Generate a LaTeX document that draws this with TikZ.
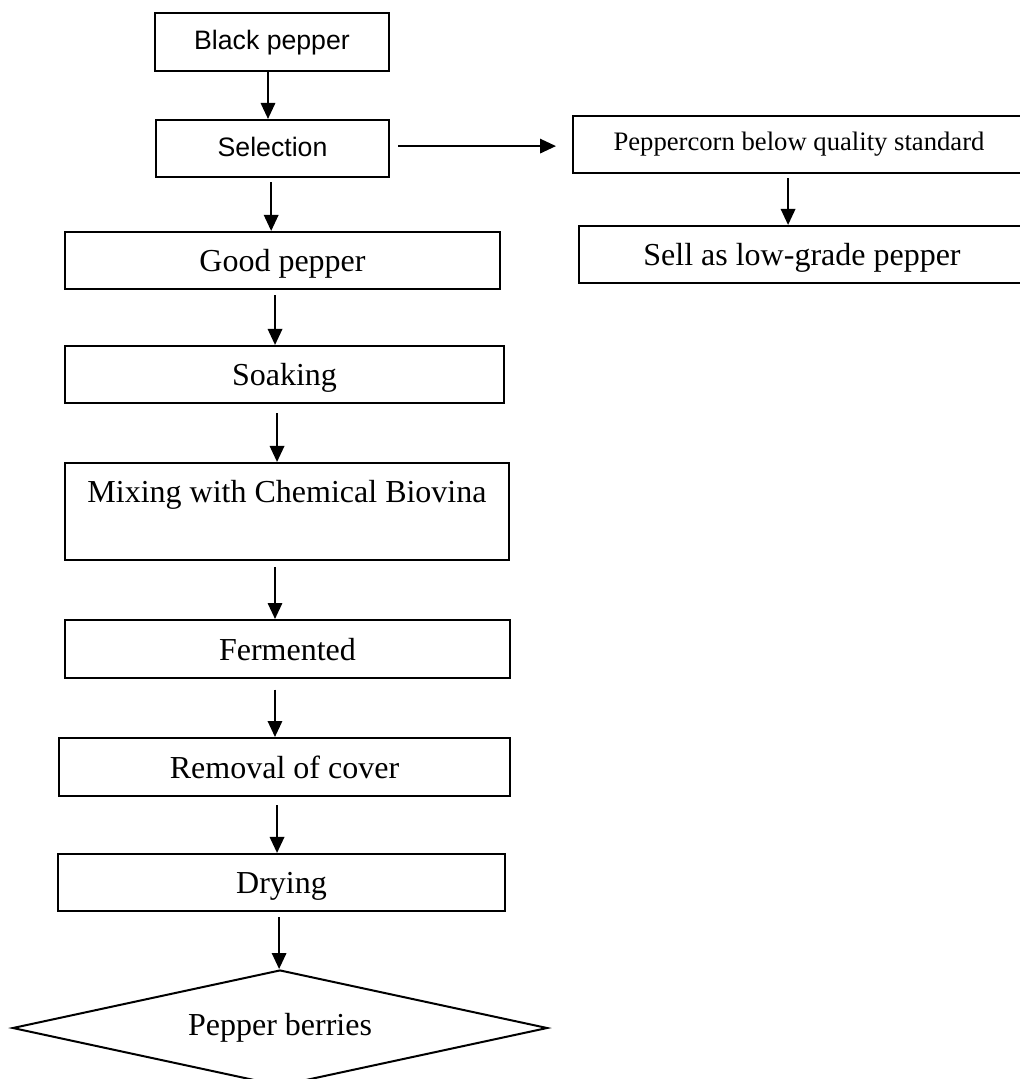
\documentclass[tikz,border=0pt]{standalone}
\usepackage{fontspec}
\setmainfont{Liberation Serif}
\setsansfont{Liberation Sans}
\usetikzlibrary{arrows.meta,shapes.geometric}

\tikzset{
  stage/.style={draw, line width=0.75pt, inner sep=0pt, align=center,
    minimum height=21.4pt, text height=8.3pt, text depth=0pt,
    font=\fontsize{12}{14.4}\selectfont},
  stagesf/.style={stage, text height=7.2pt, font=\sffamily\fontsize{10}{12}\selectfont},
  flow/.style={line width=0.75pt, -{Triangle[length=6pt,width=5.4pt]}},
}

\begin{document}
\begin{tikzpicture}[x=0.375pt,y=-0.375pt]
  \useasboundingbox (0,0) rectangle (1019,1079);
  % main line
  \node[stagesf, minimum width=87.75pt, minimum height=21.75pt, text depth=1.2pt] (black) at (272,42) {Black pepper};
  \node[stagesf, minimum width=87.4pt, text depth=1pt] (sel) at (272.5,148.5) {Selection};
  \node[stage, minimum width=163.1pt] (good) at (282.5,260.5) {Good pepper};
  \node[stage, minimum width=164.6pt] (soak) at (284.5,374.5) {Soaking};
  \node[stage, minimum width=166.5pt, minimum height=36.4pt, text depth=14.7pt] (mix) at (287,511.5) {Mixing with Chemical Biovina};
  \node[stage, minimum width=166.9pt, minimum height=21.75pt] (ferm) at (287.5,649) {Fermented};
  \node[stage, minimum width=169.1pt, minimum height=21.75pt] (cover) at (284.5,767) {Removal of cover};
  \node[stage, minimum width=167.6pt] (dry) at (281.5,882.5) {Drying};
  \node[stage, diamond, aspect=4.6, minimum width=200.6pt, minimum height=43.5pt, text depth=3pt] (berries) at (280,1028) {Pepper berries};
  % rejected branch
  \node[stage, minimum width=169.5pt, text height=6.6pt, text depth=1.8pt, font=\fontsize{10}{12}\selectfont] (reject) at (799,144.5) {Peppercorn below quality standard};
  \node[stage, minimum width=167.25pt] (sell) at (802,254.5) {Sell as low-grade pepper};
  % connectors
  \draw[flow] ([xshift=-1.5pt]black.south) -- ([xshift=-1.5pt]black.south |- sel.north);
  \draw[flow, shorten <=1.5pt] ([xshift=-0.5pt]sel.south) -- ([xshift=-0.5pt]sel.south |- good.north);
  \draw[flow, shorten <=2pt] ([xshift=-2.8pt]good.south) -- ([xshift=-2.8pt]good.south |- soak.north);
  \draw[flow, shorten <=3.5pt] ([xshift=-2.8pt]soak.south) -- ([xshift=-2.8pt]soak.south |- mix.north);
  \draw[flow, shorten <=2.2pt] ([xshift=-4.5pt]mix.south) -- ([xshift=-4.5pt]mix.south |- ferm.north);
  \draw[flow, shorten <=4pt] ([xshift=-4.7pt]ferm.south) -- ([xshift=-4.7pt]ferm.south |- cover.north);
  \draw[flow, shorten <=3pt] ([xshift=-2.8pt]cover.south) -- ([xshift=-2.8pt]cover.south |- dry.north);
  \draw[flow, shorten <=2pt] ([xshift=-0.9pt]dry.south) -- ([xshift=-0.9pt]dry.south |- berries.north);
  \draw[flow, shorten <=3pt, shorten >=6pt] ([yshift=0.9pt]sel.east) -- ([yshift=0.9pt]sel.east -| reject.west);
  \draw[flow, shorten <=1.5pt] ([xshift=-4.1pt]reject.south) -- ([xshift=-4.1pt]reject.south |- sell.north);
\end{tikzpicture}
\end{document}
